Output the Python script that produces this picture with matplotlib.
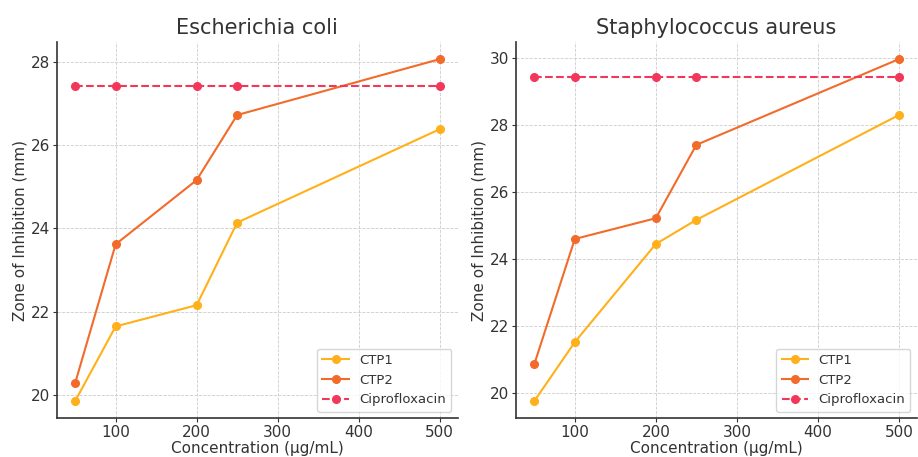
import matplotlib
matplotlib.use("Agg")
import matplotlib.pyplot as plt

# concentrations (ug/mL)
conc = [50, 100, 200, 250, 500]

# E. coli zone of inhibition (mm)
ecoli_ctp1 = [19.86, 21.65, 22.16, 24.14, 26.38]
ecoli_ctp2 = [20.29, 23.62, 25.16, 26.72, 28.06]
ecoli_cipro = [27.42, 27.42, 27.42, 27.42, 27.42]

# S. aureus zone of inhibition (mm)
saureus_ctp1 = [19.76, 21.52, 24.45, 25.17, 28.30]
saureus_ctp2 = [20.86, 24.60, 25.22, 27.41, 29.97]
saureus_cipro = [29.44, 29.44, 29.44, 29.44, 29.44]

panels = [
    ("Escherichia coli", ecoli_ctp1, ecoli_ctp2, ecoli_cipro),
    ("Staphylococcus aureus", saureus_ctp1, saureus_ctp2, saureus_cipro),
]

plt.rcParams["text.color"] = "#333333"
plt.rcParams["axes.labelcolor"] = "#333333"
plt.rcParams["xtick.color"] = "#333333"
plt.rcParams["ytick.color"] = "#333333"

fig, axes = plt.subplots(1, 2, figsize=(9.18, 4.57), dpi=100)

for ax, (title, ctp1, ctp2, cipro) in zip(axes, panels):
    ax.plot(conc, ctp1, marker="o", color="#FFB01A", linewidth=1.5, markersize=5.5, label="CTP1")
    ax.plot(conc, ctp2, marker="o", color="#F26B2A", linewidth=1.5, markersize=5.5, label="CTP2")
    ax.plot(conc, cipro, marker="o", color="#F2385A", linewidth=1.5, markersize=5.5,
            linestyle="--", label="Ciprofloxacin")
    ax.set_title(title, fontsize=15)
    ax.set_xlabel("Concentration (µg/mL)", fontsize=11, labelpad=1)
    ax.set_ylabel("Zone of Inhibition (mm)", fontsize=11, labelpad=2)
    ax.tick_params(labelsize=11, length=3, pad=2)
    ax.grid(True, linestyle="--", linewidth=0.6, color="#cccccc")
    for side in ["top", "right"]:
        ax.spines[side].set_visible(False)
    for side in ["left", "bottom"]:
        ax.spines[side].set_color("#333333")
        ax.spines[side].set_linewidth(1.2)
    ax.set_xticks([100, 200, 300, 400, 500])
    ax.legend(loc="lower right", fontsize=9.5)

axes[1].set_yticks([20, 22, 24, 26, 28, 30])

plt.subplots_adjust(left=0.062, right=0.999, top=0.908, bottom=0.085, wspace=0.145)
plt.savefig("out.png", dpi=100)
